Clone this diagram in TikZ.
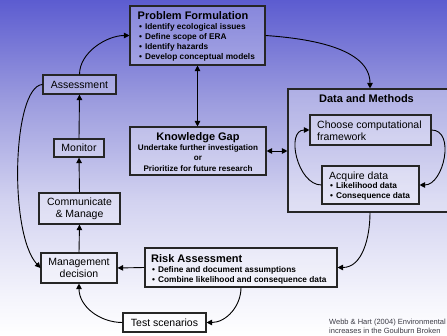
\documentclass[tikz,border=0pt]{standalone}
\usepackage{fontspec}
\setmainfont{Liberation Sans}
\usetikzlibrary{arrows.meta,calc}

\definecolor{bgtop}{RGB}{92,92,208}
\definecolor{bgmidhi}{RGB}{155,155,222}
\definecolor{bgmidlo}{RGB}{210,210,240}
\definecolor{bglow}{RGB}{245,245,252}
\definecolor{citegray}{RGB}{60,60,70}
% vertical slide background: blue at the top fading to white at the bottom
\pgfdeclareverticalshading{slidebg}{100bp}{color(0bp)=(white); color(25bp)=(white);
  color(30.4bp)=(bglow); color(45.2bp)=(bgmidlo); color(60.1bp)=(bgmidhi);
  color(75bp)=(bgtop); color(100bp)=(bgtop)}

\tikzset{
  box/.style={draw=black!85, line width=1.1pt, fill=white, fill opacity=0.25,
    text opacity=1, rectangle, inner sep=0pt},
  heading/.style={font=\fontsize{11}{13}\selectfont\bfseries, inner sep=0pt},
  bullets/.style={font=\fontsize{8.3}{10}\selectfont\bfseries, align=left, inner sep=0pt},
  plain/.style={font=\fontsize{10.5}{12}\selectfont, align=center},
  flow/.style={line width=0.9pt, -{Triangle[length=5.5pt,width=5.5pt]}},
  twoway/.style={line width=0.9pt, {Triangle[length=5.5pt,width=5.5pt]}-{Triangle[length=5.5pt,width=5.5pt]}},
}
\newcommand{\bul}{\textbullet\hspace{3pt}}

\begin{document}
\begin{tikzpicture}[x=1pt,y=-1pt]
\useasboundingbox (0,0) rectangle (447,336);
\clip (0,0) rectangle (447,336);
\shade[shading=slidebg] (0,0) rectangle (447,336);

% Multi-line text nodes are placed by the baseline of their last line.

% Problem formulation
\node[box, minimum width=135pt, minimum height=59pt] (pf) at (197.5,35.5) {};
\node[heading, anchor=base west] (pftitle) at (137.5,20) {Problem Formulation};
\node[bullets, anchor=base west] (pflist) at (139,60)
  {\bul Identify ecological issues\\\bul Define scope of ERA\\\bul Identify hazards\\\bul Develop conceptual models};

% Knowledge gap
\node[box, minimum width=136pt, minimum height=48pt] (kg) at (198,151) {};
\node[heading, anchor=base] (kgtitle) at (198,141) {Knowledge Gap};
\node[bullets, align=center, anchor=base, font=\fontsize{8.1}{10.5}\selectfont\bfseries] (kglist) at (198,171.5)
  {Undertake further investigation\\or\\Prioritize for future research};

% Data and methods
\node[box, minimum width=164pt, minimum height=123pt] (dm) at (370,150.5) {};
\node[heading, anchor=base] (dmtitle) at (366.5,103) {Data and Methods};
\node[box, minimum width=121pt, minimum height=30pt] (choose) at (370.5,130) {};
\node[plain, align=left, anchor=base west, inner sep=0pt, font=\fontsize{10.5}{11.5}\selectfont] (choosetext) at (317,140.5)
  {Choose computational\\framework};
\node[box, minimum width=97pt, minimum height=38pt] (acq) at (370.5,185) {};
\node[plain, anchor=base west, inner sep=0pt] (acqtitle) at (329,179.5) {Acquire data};
\node[bullets, anchor=base west] (acqlist) at (330,199)
  {\bul Likelihood data\\\bul Consequence data};

% Risk assessment
\node[box, minimum width=192pt, minimum height=39pt] (risk) at (241,267.5) {};
\node[heading, anchor=base west] (risktitle) at (151,262.5) {Risk Assessment};
\node[bullets, anchor=base west] (risklist) at (152,282.5)
  {\bul Define and document assumptions\\\bul Combine likelihood and consequence data};

% Management cycle on the left
\node[box, plain, minimum width=73pt, minimum height=19pt] (assess) at (79.5,84.5) {Assessment};
\node[box, plain, minimum width=50pt, minimum height=18pt] (monitor) at (79,148) {Monitor};
\node[box, plain, minimum width=81pt, minimum height=31pt] (comm) at (79.5,208.5) {Communicate\\\& Manage};
\node[box, plain, minimum width=76pt, minimum height=30pt] (mgmt) at (79,268) {Management\\decision};
\node[box, plain, minimum width=83pt, minimum height=19pt] (test) at (164.5,322.5) {Test scenarios};

% Source note
\node[anchor=base west, inner sep=0pt, align=left, text=citegray,
  font=\fontsize{7.5}{9.5}\selectfont] (cite) at (329,334)
  {Webb \& Hart (2004) Environmental\\increases in the Goulburn Broken};

% Connectors
\draw[flow] (assess.north) to[out=90, in=180, looseness=0.9] (pf.west);
\draw[flow] (pf.east) to[out=-4, in=90, looseness=0.9] (dm.north);
\draw[twoway] (pf.south) -- (pf.south |- kg.north);
\draw[twoway] (kg.east) -- (kg.east -| dm.west);
\draw[flow] (choose.east) to[out=0, in=0, looseness=1.1] (acq.east);
\draw[flow] (acq.west) to[out=180, in=180, looseness=1.1] (choose.west);
\draw[flow] (dm.south) to[out=-90, in=0] (risk.east);
\draw[flow] (risk.west) -- (mgmt.east);
\draw[flow] (risk.south) to[out=-90, in=0] (test.east);
\draw[flow] (test.west) to[out=180, in=-90] (mgmt.south);
\draw[flow] (mgmt.north) -- (comm.south);
\draw[flow] (comm.north) -- (monitor.south);
\draw[flow] (monitor.north) -- (assess.south);
\draw[flow] (assess.west) .. controls ($(assess.west)+(-30,2)$) and ($(mgmt.west)+(-32,-35)$) .. (mgmt.west);
\end{tikzpicture}
\end{document}
